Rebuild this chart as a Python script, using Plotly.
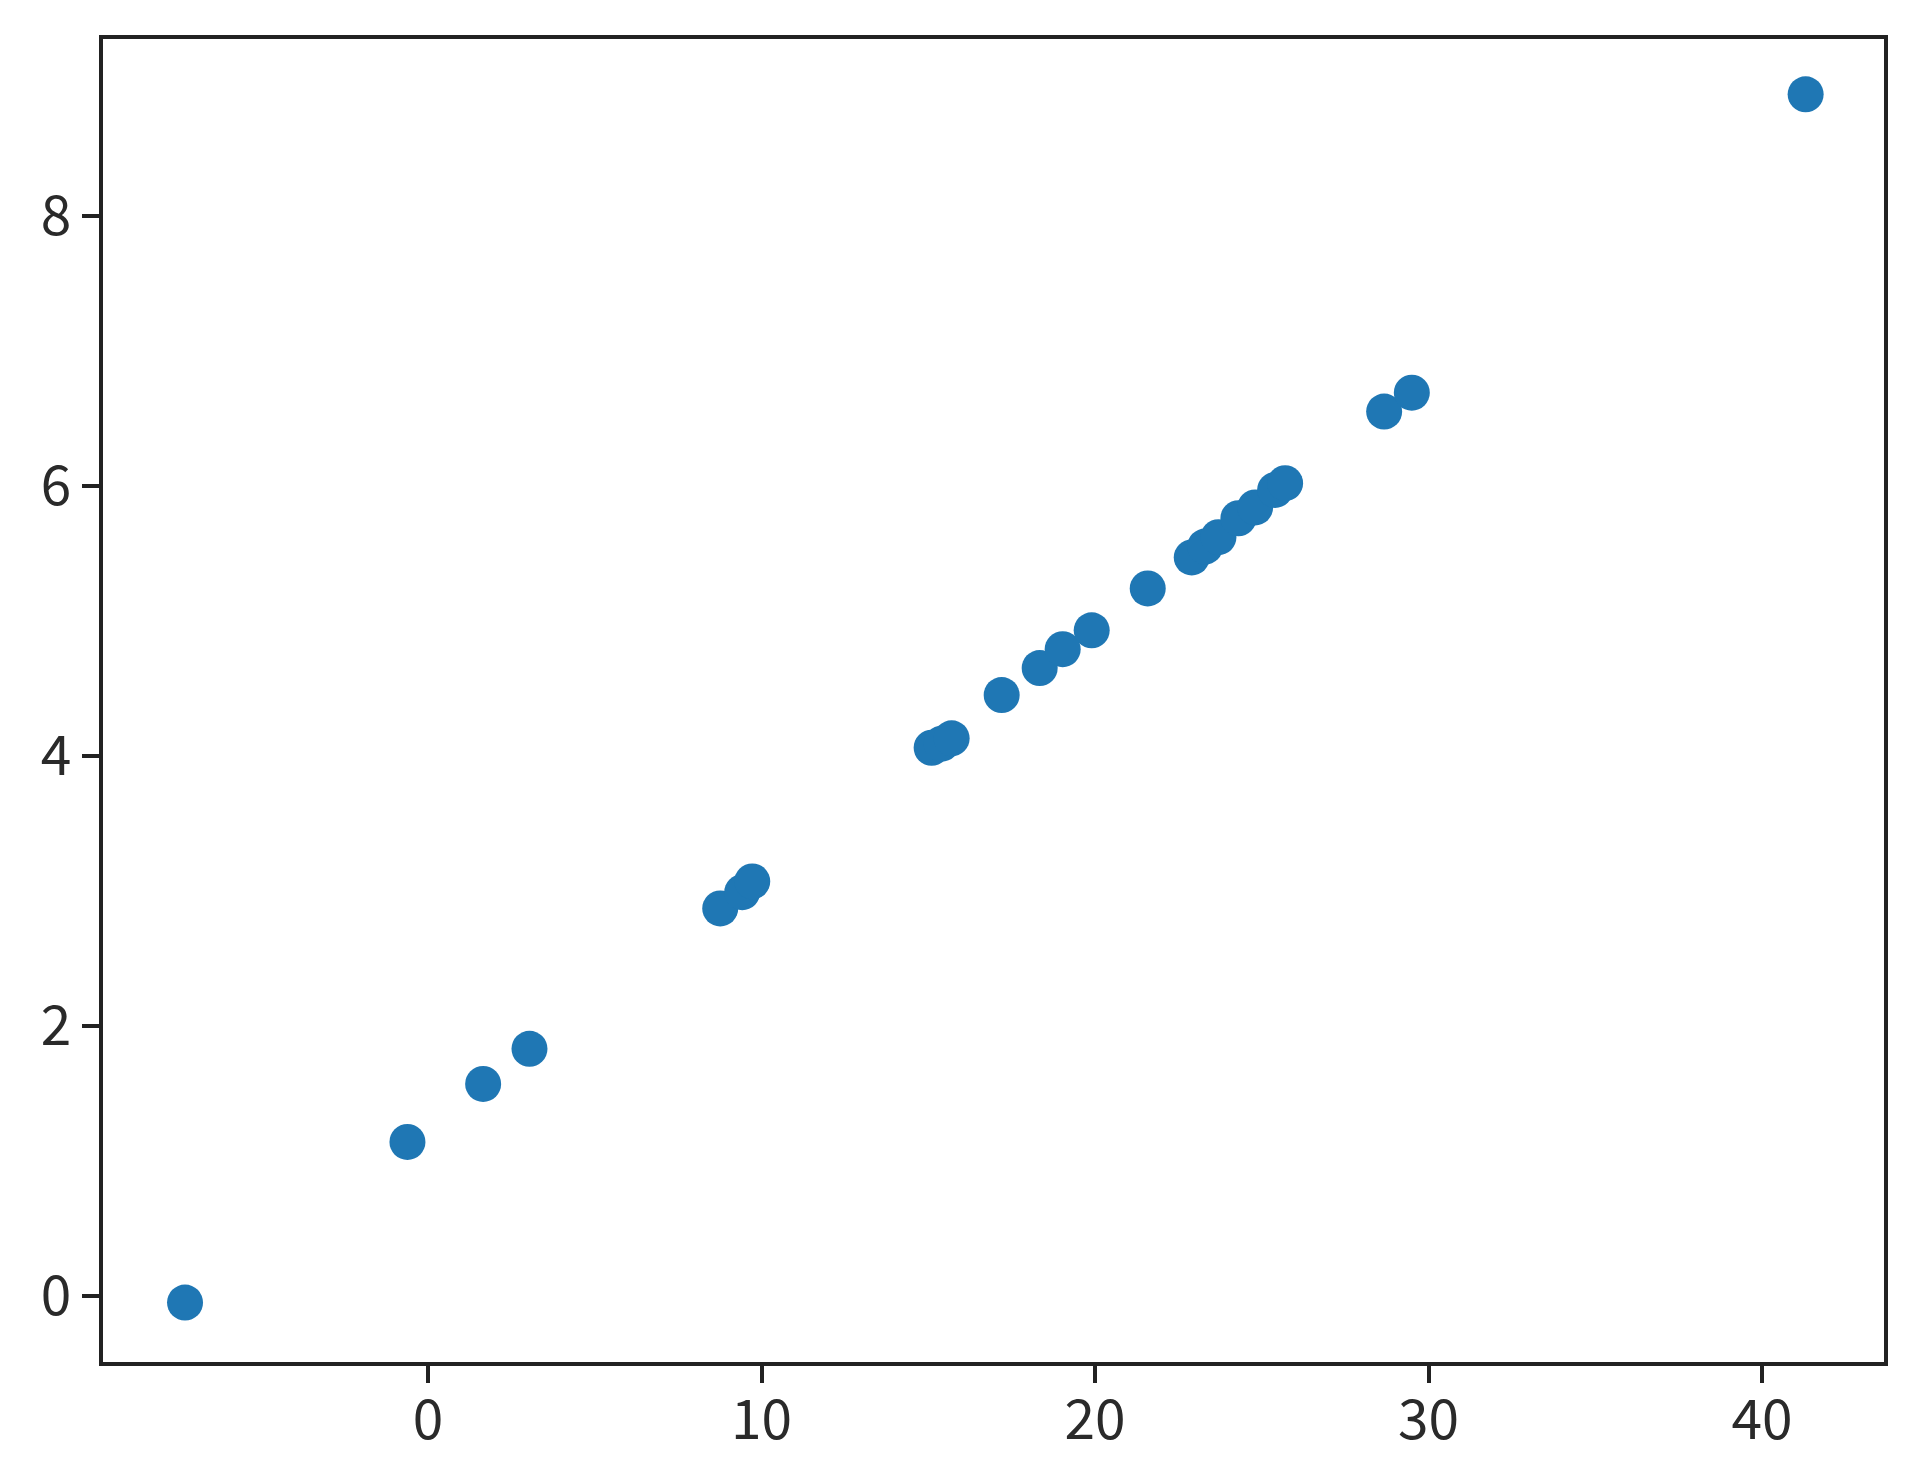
import plotly.graph_objects as go

x_values = [-7.29, -0.62, 1.65, 3.04, 8.76, 9.42, 9.72, 15.1, 15.4, 15.7,
            17.2, 18.34, 19.03, 19.9, 21.58, 22.9, 23.3, 23.7, 24.3, 24.8,
            25.4, 25.7, 28.67, 29.5, 41.31]
y_values = [-0.05, 1.14, 1.57, 1.83, 2.87, 2.99, 3.07, 4.06, 4.09, 4.13,
            4.45, 4.65, 4.79, 4.93, 5.24, 5.47, 5.55, 5.62, 5.76, 5.84,
            5.97, 6.02, 6.55, 6.69, 8.90]
x_ticks = [0, 10, 20, 30, 40]
y_ticks = [0, 2, 4, 6, 8]

fig = go.Figure(go.Scatter(
    x=x_values, y=y_values, mode="markers",
    marker=dict(color="#1f77b4", size=36, line=dict(width=0)),
))

axis_common = dict(
    showgrid=False, zeroline=False, showline=True, mirror=True,
    linecolor="#222222", linewidth=3.5, ticks="outside", ticklen=17,
    tickwidth=3.5, tickcolor="#222222",
    tickfont=dict(family="Noto Sans CJK JP", size=55, color="#2a2a2a"),
)

fig.update_xaxes(range=[-9.75, 43.66], tickvals=x_ticks,
                 ticklabelstandoff=-10, **axis_common)
fig.update_yaxes(range=[-0.49, 9.31], tickvals=y_ticks, **axis_common)

fig.update_layout(
    width=1920, height=1482,
    margin=dict(l=95, r=44, t=31, b=128),
    paper_bgcolor="white", plot_bgcolor="white",
    showlegend=False,
)

fig.write_html("out.html")
